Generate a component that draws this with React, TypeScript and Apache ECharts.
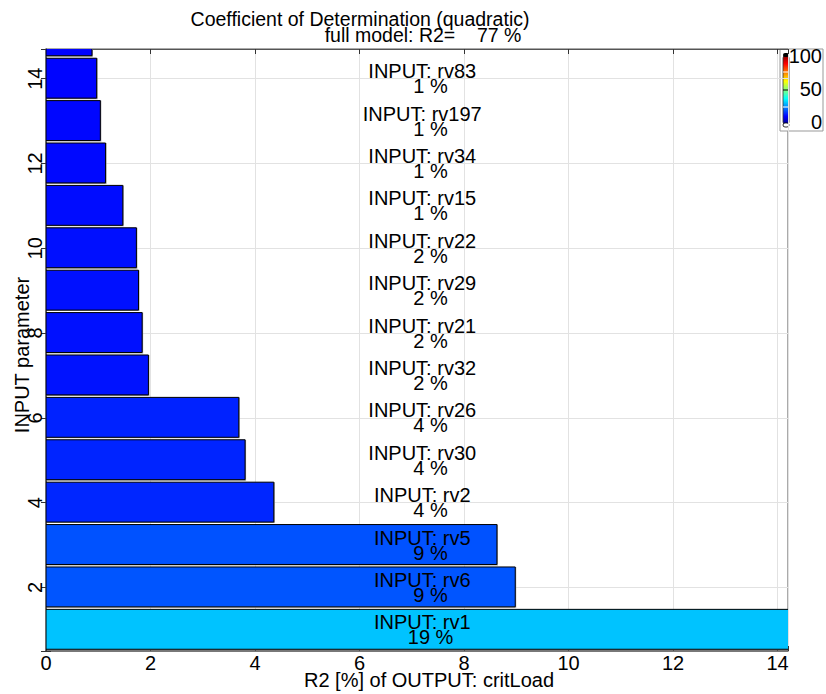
import React, { useEffect, useRef } from "react";
import * as echarts from "echarts";

// Parameter rank (y position) = index + 1
const PARAMS = ["rv1", "rv6", "rv5", "rv2", "rv30", "rv26", "rv32", "rv21", "rv29", "rv22", "rv15", "rv34", "rv197", "rv83", "rv18"];
// bar length on the R2 axis
const R2_BAR = [19.0, 8.98, 8.63, 4.36, 3.81, 3.69, 1.96, 1.84, 1.77, 1.73, 1.47, 1.14, 1.04, 0.97, 0.88];
// printed percentage
const R2_PCT = [19, 9, 9, 4, 4, 4, 2, 2, 2, 2, 1, 1, 1, 1, 1];
const BAR_COLORS = ["#00c3ff", "#0055ff", "#0052ff", "#0026ff", "#0024ff", "#0022ff", "#0012ff", "#0010ff", "#0010ff", "#000fff", "#000cff", "#0008ff", "#0006ff", "#0004ff", "#0002ff"];
const COLORBAR_TICKS = ["100", "50", "0"];
const FULL_MODEL_R2 = 77;

const X_MIN = 0;
const X_MAX = 14.2;
const Y_MIN = 0.5;
const Y_MAX = 14.7;
const LABEL_X = 7.2;

const FONT = '"Liberation Sans", Arial, Helvetica, sans-serif';
const FS = 20;

export default function App() {
  const ref = useRef<HTMLDivElement>(null);
  useEffect(() => {
    if (!ref.current) return;
    const chart = echarts.init(ref.current, null, { renderer: "svg" });
    const data = PARAMS.map((p, i) => [i + 1, R2_BAR[i], i]);

    const axisLineStyle = { color: "#555", width: 1.5 };
    const option: any = {
      animation: false,
      backgroundColor: "#fff",
      grid: {
        left: 46,
        right: 38,
        top: 49,
        bottom: 43,
        containLabel: false,
        outerBoundsMode: "none",
        show: true,
        borderColor: "#555",
        borderWidth: 1,
        backgroundColor: "#fff",
      },
      xAxis: [
        {
          type: "value",
          min: X_MIN,
          max: X_MAX,
          interval: 2,
          position: "bottom",
          axisLine: { show: true, lineStyle: axisLineStyle },
          axisTick: { show: true, inside: true, length: 5, lineStyle: { color: "#333" } },
          splitLine: { show: true, lineStyle: { color: "#e2e2e2", width: 1 } },
          axisLabel: {
            show: true,
            margin: 2,
            fontSize: FS,
            fontFamily: FONT,
            color: "#000",
            formatter: (v: number) => (Number.isInteger(v) && v % 2 === 0 ? String(v) : ""),
          },
        },
        {
          type: "value",
          min: X_MIN,
          max: X_MAX,
          interval: 2,
          position: "top",
          axisLine: { show: true, lineStyle: { color: "#555", width: 1 } },
          axisTick: { show: true, inside: true, length: 5, lineStyle: { color: "#333" } },
          splitLine: { show: false },
          axisLabel: { show: false },
        },
      ],
      yAxis: [
        {
          type: "value",
          min: Y_MIN,
          max: Y_MAX,
          minInterval: 2,
          maxInterval: 2,
          position: "left",
          axisLine: { show: true, lineStyle: axisLineStyle },
          axisTick: { show: true, inside: true, length: 5, lineStyle: { color: "#333" } },
          splitLine: { show: true, lineStyle: { color: "#e2e2e2", width: 1 } },
          axisLabel: {
            show: true,
            rotate: 90,
            margin: 1,
            fontSize: FS,
            fontFamily: FONT,
            color: "#000",
            formatter: (v: number) => (Number.isInteger(v) && v % 2 === 0 ? String(v) : ""),
          },
        },
        {
          type: "value",
          min: Y_MIN,
          max: Y_MAX,
          minInterval: 2,
          maxInterval: 2,
          position: "right",
          axisLine: { show: true, lineStyle: { color: "#555", width: 1 } },
          axisTick: { show: true, inside: true, length: 5, lineStyle: { color: "#333" } },
          splitLine: { show: false },
          axisLabel: { show: false },
        },
      ],
      series: [
        {
          type: "custom",
          xAxisIndex: 0,
          yAxisIndex: 0,
          clip: true,
          encode: { x: 1, y: 0 },
          data,
          renderItem: (params: any, api: any) => {
            const yv = api.value(0);
            const xv = api.value(1);
            const idx = api.value(2);
            const start = api.coord([0, yv]);
            const end = api.coord([xv, yv]);
            const h = api.size([0, 0.965])[1];
            const lp = api.coord([LABEL_X, yv]);
            const pctLine = "   " + R2_PCT[idx] + " %";
            const inView = yv <= Y_MAX;
            const children: any[] = [
              {
                type: "rect",
                shape: { x: start[0] + 1, y: start[1] - h / 2, width: end[0] - start[0], height: h },
                style: { fill: "#a0a0a0" },
              },
              {
                type: "rect",
                shape: { x: start[0], y: start[1] - h / 2, width: end[0] - start[0], height: h - 1 },
                style: { fill: BAR_COLORS[idx], stroke: "#000", lineWidth: 1 },
              },
            ];
            if (inView) {
              children.push({
                type: "text",
                x: lp[0],
                y: lp[1],
                style: {
                  text: "INPUT: " + PARAMS[idx] + "\n" + pctLine,
                  fill: "#000",
                  fontSize: FS,
                  fontFamily: FONT,
                  align: "center",
                  verticalAlign: "middle",
                  lineHeight: 15,
                },
              });
            }
            return { type: "group", children };
          },
        },
      ],
      graphic: [
        {
          type: "text",
          x: 360,
          y: 19,
          style: {
            text: "Coefficient of Determination (quadratic)",
            fill: "#000",
            fontSize: 19.5,
            fontFamily: FONT,
            align: "center",
            verticalAlign: "middle",
          },
          z: 10,
        },
        {
          type: "text",
          x: 423,
          y: 35,
          style: {
            text: "full model: R2=    " + FULL_MODEL_R2 + " %",
            fill: "#000",
            fontSize: 19.5,
            fontFamily: FONT,
            align: "center",
            verticalAlign: "middle",
          },
          z: 10,
        },
        {
          type: "text",
          x: 429,
          y: 680,
          style: {
            text: "R2 [%] of OUTPUT: critLoad",
            fill: "#000",
            fontSize: FS,
            fontFamily: FONT,
            align: "center",
            verticalAlign: "middle",
          },
          z: 10,
        },
        {
          type: "text",
          x: 22,
          y: 355,
          rotation: Math.PI / 2,
          style: {
            text: "INPUT parameter",
            fill: "#000",
            fontSize: FS,
            fontFamily: FONT,
            align: "center",
            verticalAlign: "middle",
          },
          z: 10,
        },
        // colorbar
        {
          type: "group",
          z: 20,
          children: [
            { type: "rect", shape: { x: 780, y: 49, width: 43, height: 82 }, style: { fill: "#fff", stroke: "#999", lineWidth: 1 } },
            {
              type: "rect",
              shape: { x: 783, y: 55, width: 6, height: 70, r: 3 },
              style: {
                fill: new echarts.graphic.LinearGradient(0, 0, 0, 1, [
                  { offset: 0, color: "#800000" },
                  { offset: 0.125, color: "#ff0000" },
                  { offset: 0.375, color: "#ffff00" },
                  { offset: 0.5, color: "#80ff80" },
                  { offset: 0.625, color: "#00ffff" },
                  { offset: 0.875, color: "#0000ff" },
                  { offset: 1, color: "#000080" },
                ]),
                stroke: "#333",
                lineWidth: 0.8,
              },
            },
            { type: "rect", shape: { x: 783, y: 53, width: 6, height: 4, r: 2 }, style: { fill: "#000" } },
            { type: "rect", shape: { x: 783, y: 123, width: 6, height: 4, r: 2 }, style: { fill: "#fff", stroke: "#000", lineWidth: 0.8 } },
            { type: "line", shape: { x1: 783, y1: 90, x2: 789, y2: 90 }, style: { stroke: "#000", lineWidth: 1 } },
            { type: "line", shape: { x1: 783, y1: 72, x2: 789, y2: 72 }, style: { stroke: "#fff", lineWidth: 1 } },
            { type: "line", shape: { x1: 783, y1: 107, x2: 789, y2: 107 }, style: { stroke: "#fff", lineWidth: 1 } },
            ...COLORBAR_TICKS.map((t, i) => ({
              type: "text",
              x: 822,
              y: 56 + i * 33,
              style: { text: t, fill: "#000", fontSize: FS, fontFamily: FONT, align: "right", verticalAlign: "middle" },
            })),
          ],
        },
      ],
    };
    chart.setOption(option);
    return () => chart.dispose();
  }, []);
  return (
    <div
      ref={ref}
      style={{ position: "fixed", left: 0, top: 0, width: 826, height: 694, background: "#fff" }}
    />
  );
}
